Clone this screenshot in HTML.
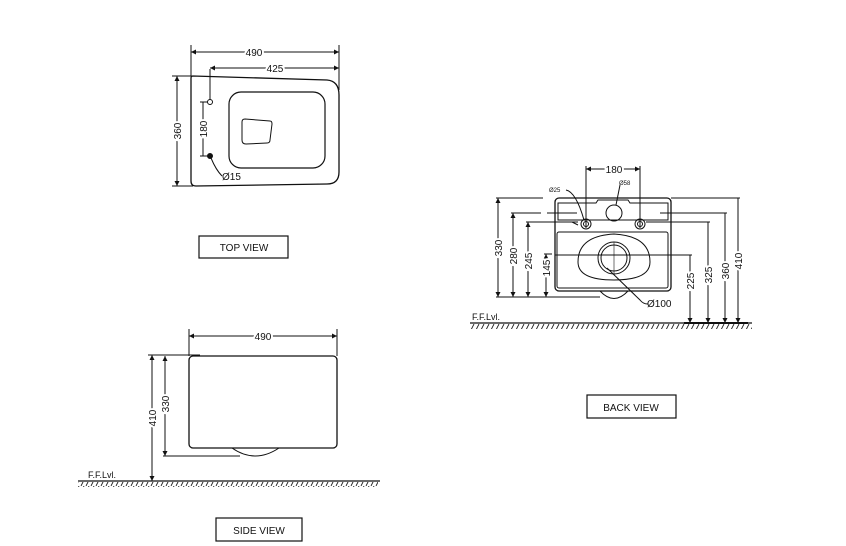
<!DOCTYPE html>
<html><head><meta charset="utf-8"><style>
html,body{margin:0;padding:0;background:#fff;width:846px;height:546px;overflow:hidden}
svg{display:block}
text{font-family:"Liberation Sans",sans-serif;fill:#111}
</style></head><body>
<svg width="846" height="546" viewBox="0 0 846 546" xmlns="http://www.w3.org/2000/svg">
<defs>
<pattern id="h" width="5" height="6" patternUnits="userSpaceOnUse">
<line x1="4" y1="0" x2="1" y2="6" stroke="#222" stroke-width="0.9"/>
</pattern>
<marker id="a" viewBox="0 0 6 6" refX="6" refY="3" markerWidth="5" markerHeight="5" orient="auto-start-reverse"><path d="M0,0L6,3L0,6z" fill="#111"/></marker>
</defs>
<g stroke="#111" fill="none" stroke-width="1">
<!-- TOP VIEW -->
<path d="M193,76 L327,80 Q339,81 339,95 L339,172 Q339,184 327,184 L196,186 Q191,186 191,181 L191,78 Q191,76 193,76 Z" stroke-width="1.3"/>
<rect x="229" y="92" width="96" height="76" rx="12" stroke-width="1.2"/>
<path d="M245,119 L270,121 Q272,121 272,124 L270,140 Q270,143 267,143 L246,144 Q242,144 242,140 L242,122 Q242,119 245,119Z"/>
<circle cx="210" cy="102" r="2.5"/><circle cx="210" cy="156" r="2.5" fill="#111"/>
<line x1="210" y1="69" x2="210" y2="100"/>
<line x1="191" y1="45" x2="191" y2="76"/><line x1="339" y1="45" x2="339" y2="90"/>
<line x1="191" y1="52" x2="339" y2="52" marker-start="url(#a)" marker-end="url(#a)"/>
<line x1="210" y1="68" x2="339" y2="68" marker-start="url(#a)" marker-end="url(#a)"/>
<line x1="172" y1="76" x2="193" y2="76"/><line x1="172" y1="186" x2="193" y2="186"/>
<line x1="177" y1="76" x2="177" y2="186" marker-start="url(#a)" marker-end="url(#a)"/>
<line x1="200" y1="102" x2="208" y2="102"/><line x1="200" y1="156" x2="208" y2="156"/>
<line x1="203" y1="102" x2="203" y2="156"/>
<path d="M211,158 Q216,170 222,176"/>
<rect x="199" y="236" width="89" height="22" stroke-width="1.2"/>
<!-- BACK VIEW -->
<rect x="555" y="198" width="116" height="93" rx="4" stroke-width="1.3"/>
<path d="M558,203 L596,203 L598,200 L628,200 L630,203 L668,203 L668,220 L558,220 Z"/>
<rect x="557" y="232" width="111" height="56" rx="2"/>
<path d="M600,291 Q614,306 628,291"/>
<circle cx="586" cy="224" r="5"/><circle cx="586" cy="224" r="2.5"/>
<circle cx="640" cy="224" r="5"/><circle cx="640" cy="224" r="2.5"/>
<circle cx="614" cy="213" r="8"/>
<path d="M578,262 Q578,236 614,234 Q650,236 650,262 Q650,280 614,280 Q578,280 578,262Z"/>
<circle cx="614" cy="258" r="16"/><circle cx="614" cy="258" r="13"/>
<line x1="614" y1="242" x2="614" y2="274" stroke-width="0.6"/>
<line x1="586" y1="166" x2="586" y2="228"/><line x1="640" y1="166" x2="640" y2="228"/>
<line x1="586" y1="169" x2="640" y2="169" marker-start="url(#a)" marker-end="url(#a)"/>
<line x1="496" y1="198" x2="543" y2="198"/><line x1="498" y1="198" x2="498" y2="297" marker-start="url(#a)" marker-end="url(#a)"/>
<line x1="511" y1="213" x2="580" y2="213" stroke-dasharray="30,6"/><line x1="513" y1="213" x2="513" y2="297" marker-start="url(#a)" marker-end="url(#a)"/>
<line x1="526" y1="222" x2="578" y2="222"/><line x1="528" y1="222" x2="528" y2="297" marker-start="url(#a)" marker-end="url(#a)"/>
<line x1="544" y1="254" x2="552" y2="254"/><line x1="546" y1="254" x2="546" y2="297" marker-start="url(#a)" marker-end="url(#a)"/>
<line x1="496" y1="297" x2="600" y2="297"/>
<line x1="555" y1="255" x2="692" y2="255"/><line x1="690" y1="255" x2="690" y2="323" marker-end="url(#a)"/>
<line x1="646" y1="222" x2="710" y2="222"/><line x1="708" y1="222" x2="708" y2="323" marker-end="url(#a)"/>
<line x1="660" y1="213" x2="727" y2="213"/><line x1="725" y1="213" x2="725" y2="323" marker-end="url(#a)"/>
<line x1="671" y1="198" x2="740" y2="198"/><line x1="738" y1="198" x2="738" y2="323" marker-end="url(#a)"/>
<line x1="684" y1="323" x2="748" y2="323" stroke-width="2"/>
<path d="M572,222 L578,225"/><path d="M566,190 Q576,192 584,220"/>
<path d="M620,185 L616,205"/>
<path d="M607,268 L640,300 Q643,304 648,304"/>
<line x1="470" y1="323" x2="752" y2="323" stroke-width="1.2"/>
<rect x="470" y="324" width="282" height="5" fill="url(#h)" stroke="none"/>
<rect x="587" y="395" width="89" height="23" stroke-width="1.2"/>
<!-- SIDE VIEW -->
<rect x="189" y="356" width="148" height="92" rx="4" stroke-width="1.3"/>
<path d="M232,448 Q255,464 279,448"/>
<line x1="189" y1="329" x2="189" y2="356"/><line x1="337" y1="329" x2="337" y2="356"/>
<line x1="189" y1="336" x2="337" y2="336" marker-start="url(#a)" marker-end="url(#a)"/>
<line x1="148" y1="355" x2="200" y2="355"/>
<line x1="152" y1="355" x2="152" y2="481" marker-start="url(#a)" marker-end="url(#a)"/>
<line x1="165" y1="356" x2="165" y2="456" marker-start="url(#a)" marker-end="url(#a)"/>
<line x1="163" y1="456" x2="240" y2="456"/>
<line x1="78" y1="481" x2="380" y2="481" stroke-width="1.2"/>
<rect x="78" y="482" width="300" height="5" fill="url(#h)" stroke="none"/>
<rect x="216" y="518" width="86" height="23" stroke-width="1.2"/>
</g>
<g font-size="10">
<text x="254" y="56" text-anchor="middle" stroke="#fff" stroke-width="4" paint-order="stroke">490</text>
<text x="275" y="72" text-anchor="middle" stroke="#fff" stroke-width="4" paint-order="stroke">425</text>
<text transform="translate(181,131) rotate(-90)" text-anchor="middle" stroke="#fff" stroke-width="4" paint-order="stroke">360</text>
<text transform="translate(207,129) rotate(-90)" text-anchor="middle" stroke="#fff" stroke-width="4" paint-order="stroke">180</text>
<text x="222" y="180">Ø15</text>
<text x="244" y="251" text-anchor="middle" font-size="10">TOP VIEW</text>
<text x="614" y="173" text-anchor="middle" stroke="#fff" stroke-width="4" paint-order="stroke">180</text>
<text x="549" y="192" font-size="6">Ø25</text>
<text x="619" y="185" font-size="6">Ø58</text>
<text x="647" y="307">Ø100</text>
<text transform="translate(502,248) rotate(-90)" text-anchor="middle" stroke="#fff" stroke-width="4" paint-order="stroke">330</text>
<text transform="translate(517,256) rotate(-90)" text-anchor="middle" stroke="#fff" stroke-width="4" paint-order="stroke">280</text>
<text transform="translate(532,261) rotate(-90)" text-anchor="middle" stroke="#fff" stroke-width="4" paint-order="stroke">245</text>
<text transform="translate(550,268) rotate(-90)" text-anchor="middle" stroke="#fff" stroke-width="4" paint-order="stroke">145</text>
<text transform="translate(694,281) rotate(-90)" text-anchor="middle" stroke="#fff" stroke-width="4" paint-order="stroke">225</text>
<text transform="translate(712,275) rotate(-90)" text-anchor="middle" stroke="#fff" stroke-width="4" paint-order="stroke">325</text>
<text transform="translate(729,271) rotate(-90)" text-anchor="middle" stroke="#fff" stroke-width="4" paint-order="stroke">360</text>
<text transform="translate(742,261) rotate(-90)" text-anchor="middle" stroke="#fff" stroke-width="4" paint-order="stroke">410</text>
<text x="472" y="320" font-size="9">F.F.Lvl.</text>
<text x="631" y="411" text-anchor="middle">BACK VIEW</text>
<text x="263" y="340" text-anchor="middle" stroke="#fff" stroke-width="4" paint-order="stroke">490</text>
<text transform="translate(156,418) rotate(-90)" text-anchor="middle" stroke="#fff" stroke-width="4" paint-order="stroke">410</text>
<text transform="translate(169,404) rotate(-90)" text-anchor="middle" stroke="#fff" stroke-width="4" paint-order="stroke">330</text>
<text x="88" y="478" font-size="9">F.F.Lvl.</text>
<text x="259" y="534" text-anchor="middle">SIDE VIEW</text>
</g>
</svg>
</body></html>
